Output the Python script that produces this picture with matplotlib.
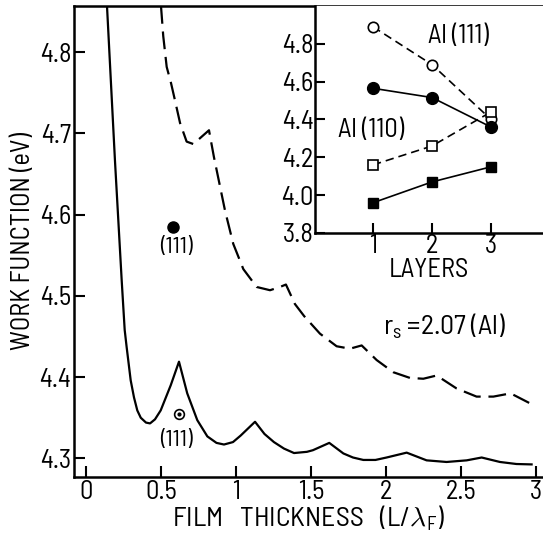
import matplotlib
matplotlib.use("Agg")
import matplotlib.pyplot as plt
from matplotlib import font_manager

# pick a narrow DIN-like face if one is installed
have = {f.name for f in font_manager.fontManager.ttflist}
cands = ["Barlow Semi Condensed", "Barlow", "Roboto Condensed",
         "Liberation Sans Narrow", "Archivo Narrow", "DejaVu Sans"]
face = next(c for c in cands if c in have)
plt.rcParams["font.family"] = [face, "DejaVu Sans"]
plt.rcParams["mathtext.fontset"] = "custom"
plt.rcParams["mathtext.rm"] = face
plt.rcParams["mathtext.it"] = face

# main panel: work function vs film thickness
solid_x = [0.14, 0.193, 0.238, 0.258, 0.271, 0.298, 0.32, 0.342, 0.365, 0.40, 0.427,
           0.46, 0.498, 0.565, 0.62, 0.675, 0.742, 0.809, 0.87, 0.92, 0.98, 1.031,
           1.127, 1.19, 1.253, 1.32, 1.387, 1.473, 1.513, 1.622, 1.716, 1.78, 1.849,
           1.93, 2.004, 2.138, 2.271, 2.404, 2.538, 2.638, 2.76, 2.87, 2.971]
solid_y = [4.857, 4.667, 4.519, 4.458, 4.437, 4.396, 4.375, 4.359, 4.350, 4.344, 4.343,
           4.348, 4.359, 4.390, 4.419, 4.380, 4.347, 4.327, 4.319, 4.317, 4.320, 4.328,
           4.345, 4.330, 4.320, 4.312, 4.3065, 4.308, 4.310, 4.319, 4.306, 4.301, 4.298,
           4.298, 4.301, 4.307, 4.2975, 4.2955, 4.2975, 4.301, 4.2955, 4.293, 4.2925]

dash_x = [0.50, 0.515, 0.538, 0.567, 0.593, 0.627, 0.671, 0.716, 0.771, 0.82, 0.853,
          0.871, 0.927, 0.982, 1.049, 1.138, 1.227, 1.293, 1.333, 1.393, 1.455, 1.56,
          1.671, 1.76, 1.838, 1.938, 2.049, 2.16, 2.249, 2.338, 2.471, 2.604, 2.716,
          2.831, 2.989]
dash_y = [4.857, 4.820, 4.782, 4.762, 4.741, 4.713, 4.690, 4.687, 4.696, 4.704, 4.671,
          4.655, 4.605, 4.564, 4.533, 4.511, 4.507, 4.511, 4.514, 4.490, 4.475, 4.4535,
          4.438, 4.435, 4.439, 4.421, 4.406, 4.399, 4.398, 4.402, 4.386, 4.376, 4.376,
          4.380, 4.365]

pt_filled = (0.58, 4.585)
pt_dot = (0.62, 4.355)

# inset: work function vs number of layers
layers = [1, 2, 3]
al111_open = [4.89, 4.69, 4.40]
al111_filled = [4.565, 4.516, 4.36]
al110_open = [4.16, 4.26, 4.44]
al110_filled = [3.96, 4.07, 4.15]

fig = plt.figure(figsize=(5.43, 5.37), dpi=100)
ax = fig.add_axes([74 / 543, 1 - 477 / 537, 1 - 74 / 543, (477 - 6) / 537])
ax.plot(solid_x, solid_y, color="black", lw=1.6, solid_joinstyle="round")
ax.plot(dash_x, dash_y, color="black", lw=1.6, dashes=(8, 3.5))
ax.plot(*pt_filled, "o", color="black", ms=8)
ax.plot(*pt_dot, "o", mfc="white", mec="black", mew=1.2, ms=7)
ax.plot(*pt_dot, "o", color="black", ms=2)
ax.text(0.60, 4.559, "(111)", ha="center", va="center", fontsize=17)
ax.text(0.60, 4.322, "(111)", ha="center", va="center", fontsize=17)
ax.text(2.39, 4.462, r"r$_\mathrm{s}$ =2.07 (Al)", ha="center", va="center", fontsize=20)

ax.set_xlim(-0.08, 3.047)
ax.set_ylim(4.277, 4.857)
ax.set_xticks([0, 0.5, 1, 1.5, 2, 2.5, 3])
ax.set_xticklabels(["0", "0.5", "1", "1.5", "2", "2.5", "3"])
ax.set_yticks([4.3, 4.4, 4.5, 4.6, 4.7, 4.8])
ax.set_yticklabels(["4.3", "4.4", "4.5", "4.6", "4.7", "4.8"])
ax.tick_params(direction="in", length=8, width=1.5, labelsize=19, pad=2)
ax.spines["right"].set_visible(False)
for s in ["left", "bottom", "top"]:
    ax.spines[s].set_linewidth(1.8)
ax.set_xlabel(r"FILM   THICKNESS   (L/$\lambda_\mathrm{F}$)", fontsize=20, labelpad=0)
ax.set_ylabel("WORK FUNCTION (eV)", fontsize=19, labelpad=3)

ins = fig.add_axes([315 / 543, 1 - 233 / 537, 1 - 315 / 543, (233 - 6) / 537])
ins.plot(layers, al111_open, "o--", color="black", mfc="white", mew=1.2, ms=7.5,
         lw=1.2, dashes=(5, 3))
ins.plot(layers, al111_filled, "o-", color="black", ms=8.5, lw=1.2)
ins.plot(layers, al110_open, "s--", color="black", mfc="white", mew=1.2, ms=7,
         lw=1.2, dashes=(5, 3))
ins.plot(layers, al110_filled, "s-", color="black", ms=7.5, lw=1.2)
ins.text(2.45, 4.84, "Al (111)", ha="center", va="center", fontsize=19)
ins.text(0.97, 4.345, "Al (110)", ha="center", va="center", fontsize=19)
ins.set_xlim(0.017, 3.88)
ins.set_ylim(3.8, 5.0)
ins.set_xticks(layers)
ins.set_yticks([3.8, 4.0, 4.2, 4.4, 4.6, 4.8])
ins.set_yticklabels(["3.8", "4.0", "4.2", "4.4", "4.6", "4.8"])
ins.tick_params(direction="in", length=7, width=1.5, labelsize=19, pad=1)
ins.spines["right"].set_visible(False)
ins.spines["top"].set_visible(False)
for s in ["left", "bottom"]:
    ins.spines[s].set_linewidth(1.8)
ins.set_xlabel("LAYERS", fontsize=19, labelpad=0)

fig.savefig("out.png", dpi=100)
